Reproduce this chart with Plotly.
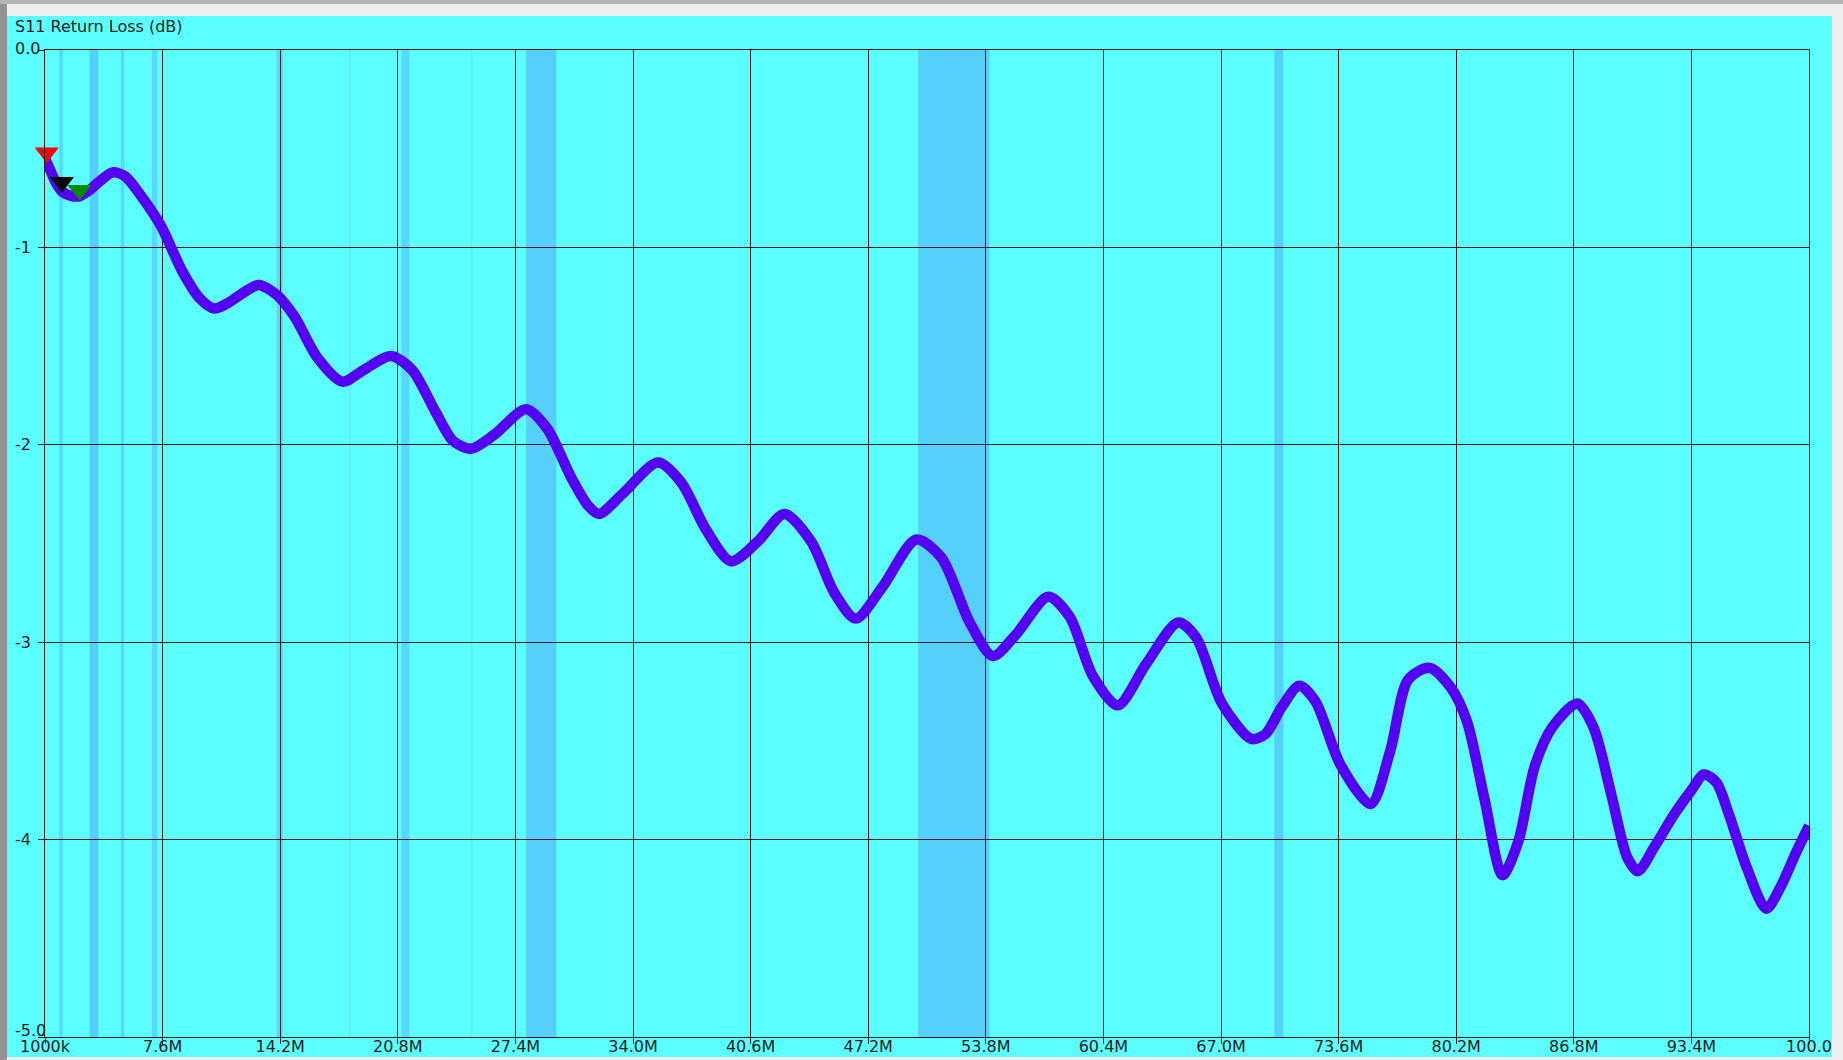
import plotly.graph_objects as go

# sweep (MHz, dB)
freq_mhz = [1.0, 1.3, 1.6, 2.0, 2.5, 2.96, 3.5, 4.0, 4.8, 5.5, 6.4, 7.5, 8.7, 9.7,
            10.5, 11.3, 12.3, 13.0, 14.0, 15.0, 16.3, 17.7, 18.9, 20.4, 21.6, 22.9,
            23.9, 24.9, 26.2, 28.0, 29.2, 30.5, 31.5, 32.1, 33.4, 35.4, 36.7, 38.1,
            39.5, 41.0, 42.5, 44.0, 45.3, 46.5, 48.0, 49.9, 51.3, 52.9, 54.2, 55.5,
            57.3, 58.5, 59.8, 61.2, 62.8, 64.6, 65.6, 67.05, 68.7, 69.5, 70.4, 71.4,
            72.3, 73.7, 75.4, 76.5, 77.5, 78.7, 79.9, 80.8, 81.8, 82.8, 83.7, 84.6,
            85.6, 87.0, 87.9, 88.9, 89.8, 90.4, 91.3, 92.45, 93.4, 94.1, 94.8, 95.5,
            96.5, 97.6, 98.4, 99.3, 100.0]
s11_db = [-0.55, -0.61, -0.67, -0.72, -0.74, -0.74, -0.71, -0.67, -0.62, -0.64, -0.74,
          -0.89, -1.12, -1.26, -1.31, -1.28, -1.22, -1.19, -1.24, -1.35, -1.56, -1.68,
          -1.62, -1.55, -1.62, -1.83, -1.98, -2.02, -1.95, -1.82, -1.92, -2.16, -2.31,
          -2.35, -2.25, -2.09, -2.19, -2.43, -2.59, -2.49, -2.35, -2.49, -2.75, -2.88,
          -2.72, -2.48, -2.57, -2.90, -3.07, -2.96, -2.77, -2.87, -3.17, -3.32, -3.11,
          -2.90, -2.975, -3.31, -3.49, -3.465, -3.33, -3.22, -3.30, -3.62, -3.82, -3.55,
          -3.19, -3.13, -3.23, -3.40, -3.80, -4.18, -4.005, -3.63, -3.43, -3.31, -3.43,
          -3.77, -4.09, -4.16, -4.04, -3.87, -3.75, -3.67, -3.71, -3.87, -4.14, -4.35,
          -4.24, -4.06, -3.93]

# the three markers
marker_freq = [1.095, 1.95, 2.94]
marker_db = [-0.52, -0.67, -0.71]
marker_colors = ['#ff0000', '#000000', '#008a00']

# ham bands shaded on the sweep (MHz)
band_start = [1.8, 3.5, 5.25, 7.0, 14.0, 18.068, 21.0, 24.89, 28.0, 50.0, 70.0]
band_end = [2.0, 4.0, 5.45, 7.3, 14.35, 18.168, 21.45, 24.99, 29.7, 54.0, 70.5]
band_colors = ['#58d8fb', '#55d0fa', '#58d8fb', '#58d8fb', '#58d8fb', '#5aecfd',
               '#58d8fb', '#5aecfd', '#55d0fa', '#55d0fa', '#55d0fa']

x_ticks = [1.0, 7.6, 14.2, 20.8, 27.4, 34.0, 40.6, 47.2, 53.8, 60.4, 67.0, 73.6,
           80.2, 86.8, 93.4, 100.0]
x_labels = ['1000k', '7.6M', '14.2M', '20.8M', '27.4M', '34.0M', '40.6M', '47.2M',
            '53.8M', '60.4M', '67.0M', '73.6M', '80.2M', '86.8M', '93.4M', '100.0']
y_ticks = [0, -1, -2, -3, -4, -5]
y_labels = ['0.0', '-1', '-2', '-3', '-4', '-5.0']

W, H = 1843, 1060
ML, MR, MT, MB = 45, 34, 50, 23
PW, PH = W - ML - MR, H - MT - MB

FONT = 'DejaVu Sans'
FS = 16
TXT = '#1c1c24'
GRID = '#1a1a1a'


def px_x(px):
    # figure pixel -> paper coordinate
    return (px - ML) / PW


def px_y(py):
    return (H - MB - py) / PH


fig = go.Figure()

fig.add_trace(go.Scatter(x=freq_mhz, y=s11_db, mode='lines',
                         line=dict(color='#5500f0', width=10.5, shape='spline', smoothing=0.8),
                         hoverinfo='skip', showlegend=False))

fig.add_trace(go.Scatter(x=marker_freq, y=marker_db, mode='markers', cliponaxis=False,
                         marker=dict(symbol='triangle-down', size=21, color=marker_colors,
                                     line=dict(width=0)),
                         showlegend=False))

shapes = [
    # window chrome around the trace panel
    dict(type='rect', xref='paper', yref='paper', x0=px_x(0), x1=px_x(W), y0=px_y(4), y1=px_y(0),
         fillcolor='#b4b4b4', line=dict(width=0), layer='below'),
    dict(type='rect', xref='paper', yref='paper', x0=px_x(0), x1=px_x(7), y0=px_y(H), y1=px_y(4),
         fillcolor='#939393', line=dict(width=0), layer='below'),
    dict(type='rect', xref='paper', yref='paper', x0=px_x(7), x1=px_x(1832), y0=px_y(1057), y1=px_y(16),
         fillcolor='#5bffff', line=dict(width=0), layer='below'),
]
for b0, b1, c in zip(band_start, band_end, band_colors):
    shapes.append(dict(type='rect', xref='x', yref='paper', x0=b0, x1=b1, y0=0, y1=1,
                       fillcolor=c, line=dict(width=0), layer='below'))

annotations = [dict(text='S11 Return Loss (dB)', xref='paper', yref='paper',
                    x=px_x(13), y=px_y(27), xanchor='left', yanchor='middle',
                    showarrow=False, font=dict(family=FONT, size=FS, color=TXT))]
shift = {'0.0': 2, '-5.0': 7}
for v, t in zip(y_ticks, y_labels):
    annotations.append(dict(text=t, xref='paper', yref='y', x=px_x(13), y=v,
                            xanchor='left', yanchor='middle', yshift=shift.get(t, 0),
                            showarrow=False, font=dict(family=FONT, size=FS, color=TXT)))

fig.update_layout(
    width=W, height=H,
    margin=dict(l=ML, r=MR, t=MT, b=MB, autoexpand=False),
    paper_bgcolor='#efefef',
    plot_bgcolor='rgba(0,0,0,0)',
    shapes=shapes,
    annotations=annotations,
    font=dict(family=FONT, size=FS, color=TXT),
    xaxis=dict(range=[1, 100], tickvals=x_ticks, ticktext=x_labels, showgrid=True,
               gridcolor=GRID, gridwidth=1, zeroline=False, showline=True, linecolor=GRID,
               linewidth=1, mirror=True, ticks='outside', ticklen=6, tickcolor=GRID,
               ticklabelstandoff=-11, automargin=False,
               tickfont=dict(family=FONT, size=FS, color=TXT)),
    yaxis=dict(range=[-5, 0], tickvals=y_ticks, showticklabels=False, showgrid=True,
               gridcolor=GRID, gridwidth=1, zeroline=False, showline=True, linecolor=GRID,
               linewidth=1, mirror=True, ticks='outside', ticklen=6, tickcolor=GRID,
               automargin=False),
)

# page has a default 8px body margin; drop it so the figure sits at 0,0
fig.write_html('out.html', config={'displayModeBar': False},
               post_script="document.body.style.margin='0';")
